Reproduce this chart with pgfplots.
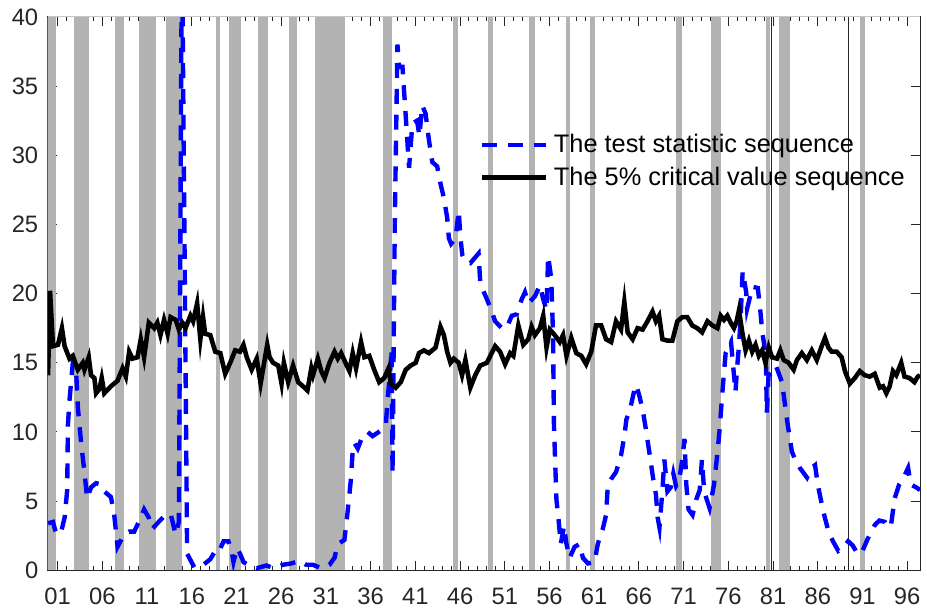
\documentclass[border=0pt]{standalone}
\usepackage{fontspec}
\setmainfont{Liberation Sans}
\usepackage{pgfplots}
\pgfplotsset{compat=1.18}
\definecolor{bandgray}{RGB}{179,179,179}
\definecolor{axgray}{RGB}{38,38,38}
\definecolor{statblue}{RGB}{0,0,255}
\begin{document}
\begin{tikzpicture}
\begin{axis}[
  at={(0,0)}, anchor=south west,
  scale only axis, width=439bp, height=278.5bp,
  xmin=1899.89, xmax=1997.44, ymin=0, ymax=40,
  xtick={1901,1906,...,1996},
  xticklabels={01,06,11,16,21,26,31,36,41,46,51,56,61,66,71,76,81,86,91,96},
  minor x tick num=4,
  ytick={0,5,...,40},
  tick align=inside,
  major tick length=4.5bp, minor tick length=2.3bp,
  tick style={axgray, line width=0.5bp},
  axis line style={axgray, line width=0.5bp},
  ticklabel style={font=\fontsize{12}{14}\selectfont, text=axgray},
  /pgf/number format/assume math mode=true,
  xticklabel style={yshift=-5.5bp},
  yticklabel style={xshift=-1.25bp},
  legend cell align=left,
  legend style={draw=none, fill=none, at={(rel axis cs:0.4954,0.788)}, anchor=north west,
    inner sep=0pt, outer sep=0pt, row sep=5.6bp, column sep=3bp,
    font=\fontsize{12.8}{15}\selectfont, nodes={inner sep=0pt}},
  legend image code/.code={\draw[#1] (0bp,0bp) -- (32bp,0bp);},
]
% shaded bands
\addplot[fill=bandgray, draw=none, forget plot] coordinates {(1899.80,0) (1899.80,40) (1900.86,40) (1900.86,0)} -- cycle;
\addplot[fill=bandgray, draw=none, forget plot] coordinates {(1902.78,0) (1902.78,40) (1904.56,40) (1904.56,0)} -- cycle;
\addplot[fill=bandgray, draw=none, forget plot] coordinates {(1907.44,0) (1907.44,40) (1908.37,40) (1908.37,0)} -- cycle;
\addplot[fill=bandgray, draw=none, forget plot] coordinates {(1910.11,0) (1910.11,40) (1911.97,40) (1911.97,0)} -- cycle;
\addplot[fill=bandgray, draw=none, forget plot] coordinates {(1913.14,0) (1913.14,40) (1914.92,40) (1914.92,0)} -- cycle;
\addplot[fill=bandgray, draw=none, forget plot] coordinates {(1918.74,0) (1918.74,40) (1919.19,40) (1919.19,0)} -- cycle;
\addplot[fill=bandgray, draw=none, forget plot] coordinates {(1920.19,0) (1920.19,40) (1921.48,40) (1921.48,0)} -- cycle;
\addplot[fill=bandgray, draw=none, forget plot] coordinates {(1923.44,0) (1923.44,40) (1924.48,40) (1924.48,0)} -- cycle;
\addplot[fill=bandgray, draw=none, forget plot] coordinates {(1926.86,0) (1926.86,40) (1927.81,40) (1927.81,0)} -- cycle;
\addplot[fill=bandgray, draw=none, forget plot] coordinates {(1929.74,0) (1929.74,40) (1933.14,40) (1933.14,0)} -- cycle;
\addplot[fill=bandgray, draw=none, forget plot] coordinates {(1937.44,0) (1937.44,40) (1938.37,40) (1938.37,0)} -- cycle;
\addplot[fill=bandgray, draw=none, forget plot] coordinates {(1945.22,0) (1945.22,40) (1945.74,40) (1945.74,0)} -- cycle;
\addplot[fill=bandgray, draw=none, forget plot] coordinates {(1949.08,0) (1949.08,40) (1949.74,40) (1949.74,0)} -- cycle;
\addplot[fill=bandgray, draw=none, forget plot] coordinates {(1953.74,0) (1953.74,40) (1954.37,40) (1954.37,0)} -- cycle;
\addplot[fill=bandgray, draw=none, forget plot] coordinates {(1957.81,0) (1957.81,40) (1958.26,40) (1958.26,0)} -- cycle;
\addplot[fill=bandgray, draw=none, forget plot] coordinates {(1960.48,0) (1960.48,40) (1961.14,40) (1961.14,0)} -- cycle;
\addplot[fill=bandgray, draw=none, forget plot] coordinates {(1970.11,0) (1970.11,40) (1970.86,40) (1970.86,0)} -- cycle;
\addplot[fill=bandgray, draw=none, forget plot] coordinates {(1974.08,0) (1974.08,40) (1975.22,40) (1975.22,0)} -- cycle;
\addplot[fill=bandgray, draw=none, forget plot] coordinates {(1980.26,0) (1980.26,40) (1980.63,40) (1980.63,0)} -- cycle;
\addplot[fill=bandgray, draw=none, forget plot] coordinates {(1981.70,0) (1981.70,40) (1982.92,40) (1982.92,0)} -- cycle;
\addplot[fill=bandgray, draw=none, forget plot] coordinates {(1990.74,0) (1990.74,40) (1991.26,40) (1991.26,0)} -- cycle;
% thin vertical lines
\addplot[axgray, line width=0.5bp, forget plot] coordinates {(1980.86,0) (1980.86,40)};
\addplot[axgray, line width=0.5bp, forget plot] coordinates {(1989.44,0) (1989.44,40)};
% test statistic sequence
\addplot[statblue, line width=2.2bp, dash pattern=on 7.5bp off 5.5bp] coordinates {
(1899.93,3.4) (1900.48,3.5) (1900.85,2.6) (1901.4,2.8) (1901.78,3.8) (1902.07,5.8) (1902.15,10.5) (1902.33,12.3)
(1902.7,15.0) (1903.07,14.4) (1903.26,11.8) (1903.63,9.2) (1904.0,7.1) (1904.3,5.2) (1904.74,6.0) (1905.3,6.3)
(1905.85,6.2) (1906.22,5.7) (1906.96,5.3) (1907.33,4.0) (1907.7,1.7) (1908.44,2.6) (1909.0,2.8) (1909.56,2.8)
(1910.3,3.8) (1910.67,4.4) (1911.2,3.8) (1911.6,3.0) (1912.3,3.5) (1912.9,3.9) (1913.63,4.1) (1914.2,2.6)
(1914.56,3.5) (1914.9,46) (1915.48,1.2) (1916.3,0.2) (1917.3,0.4) (1918.07,0.8) (1918.63,1.4) (1919.0,1.3)
(1919.56,2.1) (1920.1,2.1) (1920.48,1.3) (1920.67,0.6) (1921.04,1.6) (1921.4,1.2) (1921.78,0.6) (1922.52,0.3)
(1923.26,0.15) (1924.37,0.35) (1925.1,0.15) (1926.2,0.4) (1927.15,0.5) (1928.07,0.7) (1928.8,0.4) (1929.56,0.4)
(1930.48,0.15) (1931.4,0.4) (1931.96,0.9) (1932.33,1.9) (1933.07,2.2) (1933.44,4.3) (1933.8,6.6) (1934.0,8.7)
(1934.19,9.2) (1934.56,8.8) (1935.1,9.7) (1935.67,10.0) (1936.22,9.7) (1937.15,10.1) (1937.7,10.5) (1937.89,12.3)
(1938.2,14.5) (1938.35,16.0) (1938.45,7.0) (1938.7,25.0) (1939.0,38.0) (1939.19,36.4) (1939.56,36.4) (1939.93,32.8)
(1940.3,29.1) (1940.67,32.3) (1941.2,32.5) (1941.45,31.4) (1941.78,33.6) (1942.15,33.0) (1942.52,31.1) (1942.9,29.5)
(1943.44,29.2) (1943.8,28.0) (1944.19,26.9) (1944.56,25.5) (1944.75,24.0) (1945.0,23.6) (1945.5,24.0) (1945.85,26.0)
(1946.05,24.0) (1946.25,22.8) (1946.6,22.3) (1947.15,22.2) (1948.07,22.9) (1948.26,20.8) (1948.6,20.2) (1949.0,19.6)
(1949.37,19.0) (1949.93,18.0) (1950.67,17.5) (1951.2,17.5) (1951.78,18.4) (1952.33,18.5) (1952.9,19.6) (1953.26,20.1)
(1953.63,19.3) (1954.37,19.8) (1954.93,20.6) (1955.3,19.6) (1955.67,18.8) (1955.85,22.7) (1956.2,21.1) (1956.4,17.0)
(1956.5,10.5) (1956.78,5.1) (1957.04,3.5) (1957.26,1.9) (1957.63,3.2) (1957.9,1.9) (1958.26,0.9) (1958.81,1.7)
(1959.37,1.9) (1959.74,0.9) (1960.3,0.5) (1961.04,0.6) (1961.4,1.9) (1961.96,3.0) (1962.33,4.0) (1962.52,6.1)
(1962.9,6.6) (1963.44,7.1) (1964.0,8.3) (1964.37,9.7) (1964.6,10.9) (1965.0,11.6) (1965.48,13.0) (1965.7,13.4)
(1966.1,12.5) (1966.5,11.3) (1966.78,10.2) (1967.15,8.6) (1967.6,6.6) (1967.9,5.5) (1968.1,3.8) (1968.3,3.1)
(1968.63,5.8) (1968.85,8.0) (1969.19,5.7) (1969.56,6.0) (1969.85,7.0) (1970.15,6.1) (1970.5,6.5) (1970.85,8.0)
(1971.1,9.5) (1971.3,6.2) (1971.55,4.4) (1972.0,4.0) (1972.4,5.1) (1972.8,5.8) (1973.05,8.0) (1973.3,5.7)
(1973.9,4.5) (1974.4,6.2) (1974.8,8.6) (1975.0,10.0) (1975.4,13.4) (1975.7,15.7) (1976.3,16.5) (1976.8,12.9)
(1977.0,14.8) (1977.2,16.3) (1977.4,18.6) (1977.6,21.6) (1978.0,20.1) (1978.1,18.9) (1978.7,20.5) (1979.3,20.4)
(1979.6,18.6) (1979.8,17.2) (1980.2,15.5) (1980.3,11.4) (1980.5,14.1) (1980.9,14.3) (1981.3,14.8) (1981.6,14.3)
(1982.0,13.6) (1982.6,10.7) (1983.1,8.6) (1983.4,8.1) (1984.0,7.4) (1984.8,6.7) (1985.3,7.4) (1985.7,7.6)
(1986.0,6.2) (1986.6,4.3) (1987.2,2.8) (1987.7,2.1) (1988.3,1.4) (1988.8,1.6) (1989.4,2.1) (1989.9,1.8)
(1990.5,1.15) (1991.0,1.4) (1991.6,2.3) (1992.4,3.3) (1992.9,3.6) (1993.5,3.5) (1993.8,3.1) (1994.2,3.3)
(1994.6,5.2) (1995.1,6.2) (1995.6,6.7) (1996.1,7.4) (1996.4,6.2) (1997.0,6.0) (1997.44,5.8)
};
\addlegendentry{The test statistic sequence}
% 5% critical value sequence
\addplot[black, line width=2.3bp] coordinates {
(1899.93,14.1) (1900.15,20.2) (1900.48,16.2) (1901.04,16.3) (1901.48,17.5) (1901.78,16.2) (1902.33,15.3) (1902.7,15.5)
(1903.26,14.5) (1903.81,15.0) (1904.0,14.5) (1904.48,15.4) (1904.74,14.1) (1905.11,13.9) (1905.3,12.8) (1905.67,13.1)
(1905.93,13.9) (1906.22,12.8) (1906.96,13.3) (1907.7,13.7) (1908.26,14.6) (1908.63,14.0) (1909.0,15.8) (1909.37,15.3)
(1909.93,15.4) (1910.3,16.7) (1910.67,15.4) (1911.2,17.9) (1911.8,17.5) (1912.15,17.9) (1912.5,17.0) (1912.9,18.1)
(1913.3,17.1) (1913.63,18.3) (1914.2,18.1) (1914.56,17.4) (1914.93,17.9) (1915.3,17.5) (1915.85,18.4) (1916.15,18.0)
(1916.6,19.3) (1916.96,16.7) (1917.26,18.3) (1917.5,17.1) (1918.07,17.0) (1918.63,15.8) (1919.19,15.7) (1919.74,14.2)
(1920.3,15.0) (1920.85,15.9) (1921.4,15.8) (1921.78,16.3) (1922.15,15.4) (1922.7,14.5) (1923.26,15.3) (1923.7,13.5)
(1924.2,15.4) (1924.44,16.3) (1924.7,15.4) (1925.1,15.0) (1925.67,14.8) (1926.04,13.5) (1926.3,15.0) (1926.78,13.6)
(1927.33,14.8) (1927.9,13.6) (1928.44,13.3) (1928.93,13.0) (1929.37,14.6) (1929.56,14.1) (1930.1,15.3) (1930.48,14.4)
(1930.85,13.9) (1931.4,15.0) (1931.96,15.8) (1932.33,15.3) (1932.7,15.7) (1933.26,14.9) (1933.63,14.4) (1934.0,15.7)
(1934.37,14.6) (1934.93,16.5) (1935.3,15.4) (1935.85,15.5) (1936.4,14.5) (1936.96,13.6) (1937.52,13.9) (1938.0,14.6)
(1938.26,13.5) (1938.81,13.2) (1939.37,13.6) (1939.93,14.5) (1940.48,14.8) (1941.04,15.0) (1941.41,15.7) (1941.96,15.9)
(1942.52,15.7) (1943.26,16.1) (1943.81,17.6) (1944.19,17.0) (1944.56,15.8) (1944.93,15.0) (1945.3,15.3) (1945.85,15.0)
(1946.22,14.1) (1946.6,15.2) (1947.15,13.2) (1947.7,14.1) (1948.26,14.8) (1949.0,15.0) (1949.93,16.2) (1950.48,15.8)
(1951.04,14.9) (1951.6,15.7) (1951.96,15.5) (1952.52,17.7) (1953.07,16.3) (1953.63,16.7) (1954.0,17.6) (1954.37,17.0)
(1954.93,17.5) (1955.3,18.4) (1955.67,16.1) (1956.04,17.4) (1956.6,17.0) (1957.15,16.5) (1957.52,17.0) (1957.9,15.5)
(1958.44,16.8) (1959.0,15.7) (1959.56,15.5) (1960.1,14.9) (1960.67,15.8) (1961.2,17.7) (1961.78,17.7) (1962.33,16.7)
(1962.9,16.5) (1963.44,18.0) (1964.0,17.4) (1964.37,19.4) (1964.74,17.2) (1965.3,16.7) (1965.85,17.5) (1966.41,17.4)
(1966.96,18.0) (1967.52,18.7) (1967.9,18.0) (1968.26,18.4) (1968.63,16.7) (1969.19,16.6) (1969.74,16.6) (1970.3,18.0)
(1970.85,18.3) (1971.41,18.3) (1971.96,17.7) (1972.52,17.5) (1973.07,17.2) (1973.67,18.0) (1974.22,17.7) (1974.78,17.5)
(1975.15,18.4) (1975.52,18.1) (1975.89,18.4) (1976.26,17.9) (1976.63,17.5) (1976.93,18.0) (1977.19,18.8) (1977.56,17.2)
(1977.93,15.9) (1978.3,16.6) (1978.67,15.8) (1979.04,16.3) (1979.41,15.5) (1979.78,15.9) (1980.15,15.0) (1980.52,16.1)
(1980.89,15.4) (1981.44,15.3) (1981.81,15.9) (1982.19,15.2) (1982.74,15.0) (1983.3,14.5) (1983.67,15.2) (1984.22,15.7)
(1984.78,15.2) (1985.33,15.9) (1985.89,15.2) (1986.44,16.2) (1986.81,16.8) (1987.19,16.1) (1987.56,15.8) (1988.11,15.8)
(1988.67,15.4) (1989.04,14.4) (1989.59,13.5) (1990.15,13.9) (1990.7,14.4) (1991.26,14.1) (1991.81,14.0) (1992.37,14.2)
(1992.93,13.2) (1993.3,13.3) (1993.67,12.8) (1994.04,13.3) (1994.41,14.4) (1994.78,14.1) (1995.33,15.0) (1995.7,14.0)
(1996.26,13.9) (1996.81,13.6) (1997.19,14.0) (1997.44,14.1)
};
\addlegendentry{The 5\% critical value sequence}
\end{axis}
\draw[color=gray!45, line width=0.6bp] (current axis.north west) -- (current axis.north east);
\path (-24bp,-18.5bp) rectangle (439.5bp,287bp);
\end{tikzpicture}
\end{document}
